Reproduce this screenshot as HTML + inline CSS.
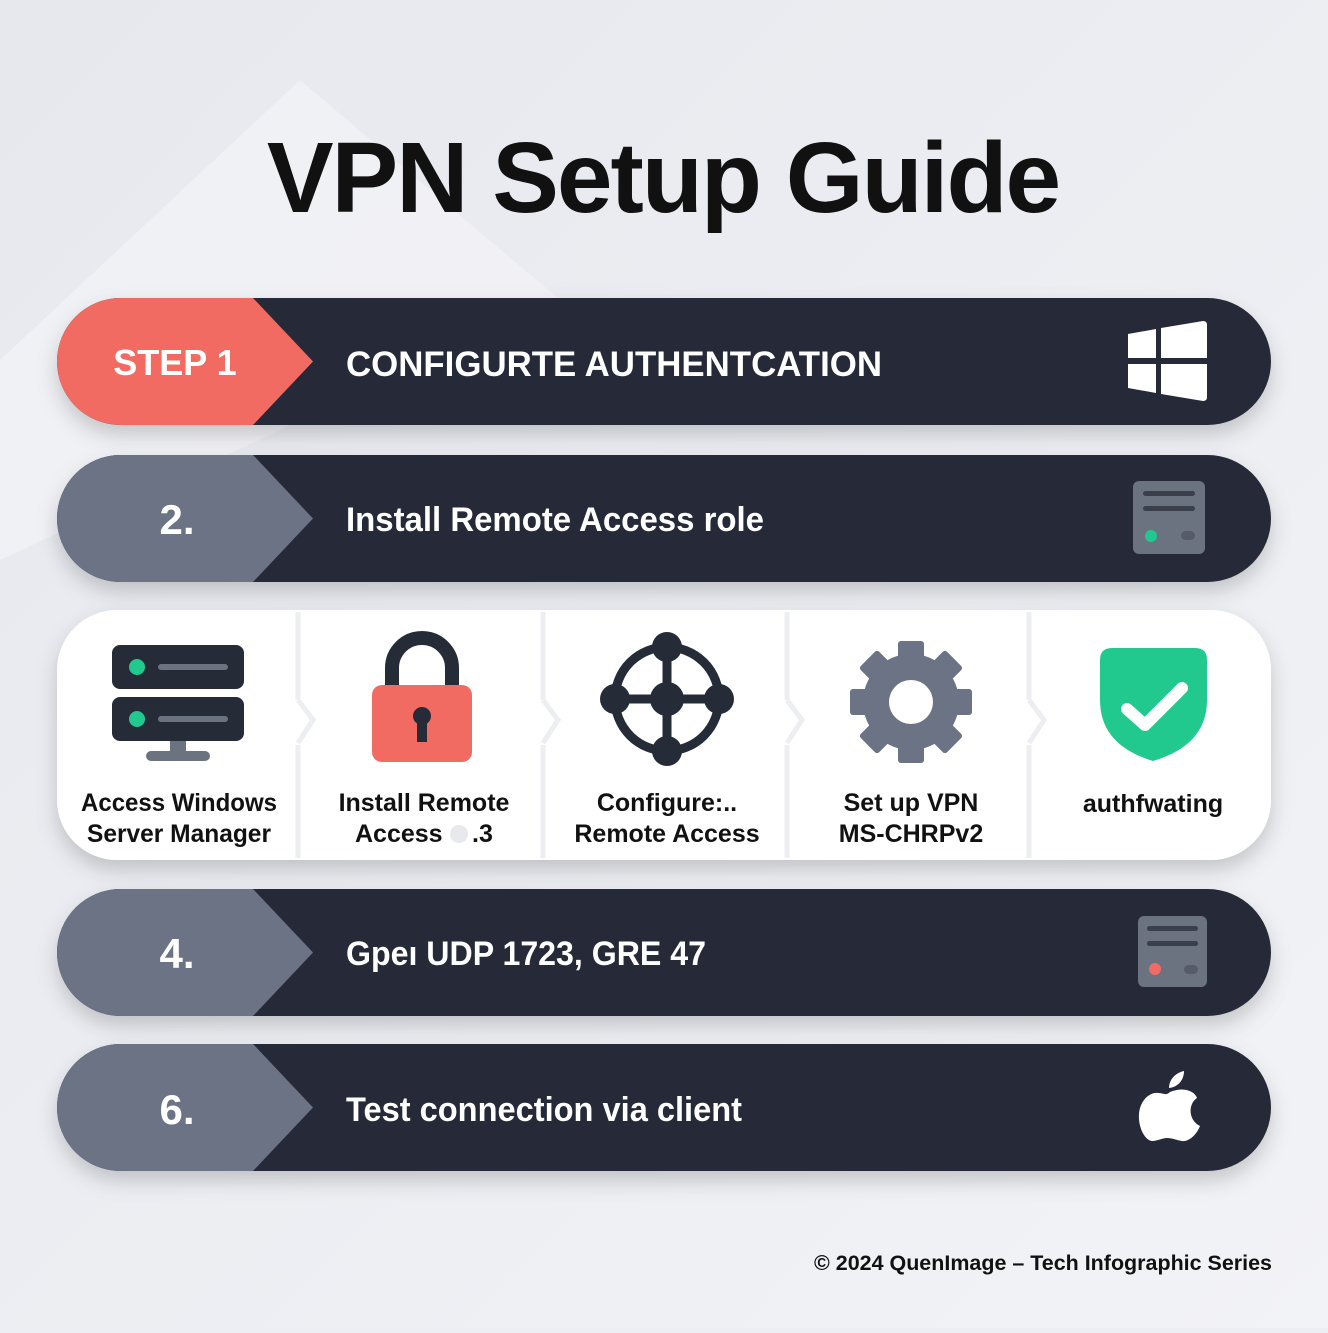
<!DOCTYPE html>
<html><head><meta charset="utf-8"><style>
html,body{margin:0;padding:0}
body{width:1328px;height:1328px;overflow:hidden;background:#eceef3;font-family:"Liberation Sans",sans-serif}
</style></head><body>
<svg width="1328" height="1328" viewBox="0 0 1328 1328" xmlns="http://www.w3.org/2000/svg" font-family="Liberation Sans, sans-serif">
<defs>
<linearGradient id="bg" x1="0" y1="0" x2="1" y2="1"><stop offset="0" stop-color="#e6e8ee"/><stop offset="1" stop-color="#f2f3f6"/></linearGradient>
<filter id="sh" x="-10%" y="-30%" width="120%" height="170%"><feDropShadow dx="0" dy="10" stdDeviation="10" flood-color="#000" flood-opacity="0.18"/></filter>
<clipPath id="c1"><rect x="57" y="298" width="1214" height="127" rx="63.5"/></clipPath>
<clipPath id="c2"><rect x="57" y="455" width="1214" height="127" rx="63.5"/></clipPath>
<clipPath id="c4"><rect x="57" y="889" width="1214" height="127" rx="63.5"/></clipPath>
<clipPath id="c6"><rect x="57" y="1044" width="1214" height="127" rx="63.5"/></clipPath>
</defs>
<rect width="1328" height="1328" fill="url(#bg)"/>
<path d="M0 360 L300 80 L560 300 L0 560Z" fill="#f3f4f7" opacity="0.7"/>
<text x="663" y="212" text-anchor="middle" font-size="100" font-weight="bold" fill="#111" letter-spacing="-2">VPN Setup Guide</text>

<!-- bar 1 -->
<g filter="url(#sh)"><rect x="57" y="298" width="1214" height="127" rx="63.5" fill="#262b38"/></g>
<g clip-path="url(#c1)"><path d="M0 298 H253 L313 361.5 L253 425 H0Z" fill="#f26b62"/></g>
<text x="175" y="375" text-anchor="middle" font-size="36" font-weight="bold" fill="#fff">STEP 1</text>
<text x="346" y="376" font-size="35" font-weight="bold" fill="#fff" textLength="536" lengthAdjust="spacingAndGlyphs">CONFIGURTE AUTHENTCATION</text>
<g fill="#fff"><path d="M1128 334 L1156 329 V358 H1128Z"/><path d="M1161 328 L1203 321 Q1207 321 1207 325 V358 H1161Z"/><path d="M1128 364 H1156 V393 L1128 388Z"/><path d="M1161 364 H1207 V397 Q1207 401 1203 401 L1161 394Z"/></g>

<!-- bar 2 -->
<g filter="url(#sh)"><rect x="57" y="455" width="1214" height="127" rx="63.5" fill="#262b38"/></g>
<g clip-path="url(#c2)"><path d="M0 455 H253 L313 518.5 L253 582 H0Z" fill="#6b7385"/></g>
<text x="177" y="534" text-anchor="middle" font-size="42" font-weight="bold" fill="#fff">2.</text>
<text x="346" y="531" font-size="34" font-weight="bold" fill="#fff" textLength="418" lengthAdjust="spacingAndGlyphs">Install Remote Access role</text>
<rect x="1133" y="481" width="72" height="73" rx="6" fill="#6b7280"/>
<rect x="1143" y="491" width="52" height="5" rx="2.5" fill="#3a3f4c"/><rect x="1143" y="506" width="52" height="5" rx="2.5" fill="#3a3f4c"/>
<circle cx="1151" cy="536" r="6" fill="#22c98e"/><rect x="1181" y="531" width="14" height="9" rx="4.5" fill="#555b68"/>

<!-- card -->
<g filter="url(#sh)"><rect x="57" y="610" width="1214" height="250" rx="60" fill="#fff"/></g>
<g stroke="#eceef1" stroke-width="5"><line x1="298" y1="612" x2="298" y2="700"/><line x1="298" y1="745" x2="298" y2="858"/><line x1="543" y1="612" x2="543" y2="700"/><line x1="543" y1="745" x2="543" y2="858"/><line x1="787" y1="612" x2="787" y2="700"/><line x1="787" y1="745" x2="787" y2="858"/><line x1="1029" y1="612" x2="1029" y2="700"/><line x1="1029" y1="745" x2="1029" y2="858"/></g>
<g fill="none" stroke="#eceef1" stroke-width="5"><path d="M298 700 L313 720 L298 743"/><path d="M543 700 L558 720 L543 743"/><path d="M787 700 L802 720 L787 743"/><path d="M1029 700 L1044 720 L1029 743"/></g>
<!-- server icon -->
<rect x="112" y="645" width="132" height="44" rx="8" fill="#262b38"/><rect x="112" y="697" width="132" height="44" rx="8" fill="#262b38"/>
<circle cx="137" cy="667" r="8" fill="#22c98e"/><circle cx="137" cy="719" r="8" fill="#22c98e"/>
<rect x="158" y="664" width="70" height="6" rx="3" fill="#6b7280"/><rect x="158" y="716" width="70" height="6" rx="3" fill="#6b7280"/>
<rect x="170" y="741" width="16" height="12" fill="#6b7280"/><rect x="146" y="751" width="64" height="10" rx="5" fill="#6b7280"/>
<!-- lock -->
<path d="M392 690 V668 A30 30 0 0 1 452 668 V690" fill="none" stroke="#262b38" stroke-width="14"/>
<rect x="372" y="685" width="100" height="77" rx="10" fill="#f26b62"/>
<circle cx="422" cy="716" r="9" fill="#262b38"/><rect x="417" y="716" width="10" height="26" fill="#262b38"/>
<!-- network -->
<g stroke="#262b38" stroke-width="9" fill="none"><circle cx="667" cy="699" r="52"/><line x1="667" y1="647" x2="667" y2="751"/><line x1="615" y1="699" x2="719" y2="699"/></g>
<g fill="#262b38"><circle cx="667" cy="647" r="15"/><circle cx="667" cy="751" r="15"/><circle cx="615" cy="699" r="15"/><circle cx="719" cy="699" r="15"/><circle cx="667" cy="699" r="17"/></g>
<!-- gear -->
<g fill="#6b7385" transform="translate(911 702)">
<circle r="48"/>
<g><rect x="-13" y="-61" width="26" height="24" rx="3"/><rect x="-13" y="-61" width="26" height="24" rx="3" transform="rotate(45)"/><rect x="-13" y="-61" width="26" height="24" rx="3" transform="rotate(90)"/><rect x="-13" y="-61" width="26" height="24" rx="3" transform="rotate(135)"/><rect x="-13" y="-61" width="26" height="24" rx="3" transform="rotate(180)"/><rect x="-13" y="-61" width="26" height="24" rx="3" transform="rotate(225)"/><rect x="-13" y="-61" width="26" height="24" rx="3" transform="rotate(270)"/><rect x="-13" y="-61" width="26" height="24" rx="3" transform="rotate(315)"/></g>
<circle r="22" fill="#fff"/></g>
<!-- shield -->
<path d="M1112 648 H1195 Q1207 648 1207 660 V700 Q1207 745 1153 761 Q1100 745 1100 700 V660 Q1100 648 1112 648Z" fill="#22c98e"/>
<path d="M1127 709 L1145 725 L1182 688" fill="none" stroke="#fff" stroke-width="12" stroke-linecap="round" stroke-linejoin="round"/>
<g font-size="25" font-weight="bold" fill="#111" text-anchor="middle">
<text x="179" y="811" textLength="196" lengthAdjust="spacingAndGlyphs">Access Windows</text><text x="179" y="842" textLength="184" lengthAdjust="spacingAndGlyphs">Server Manager</text>
<text x="424" y="811">Install Remote</text><text x="355" y="842" text-anchor="start">Access</text><text x="472" y="842" text-anchor="start">.3</text>
<text x="667" y="811">Configure:..</text><text x="667" y="842">Remote Access</text>
<text x="911" y="811">Set up VPN</text><text x="911" y="842">MS-CHRPv2</text>
<text x="1153" y="812">authfwating</text>
</g>
<circle cx="459" cy="834" r="9" fill="#e8e9ec"/>

<!-- bar 4 -->
<g filter="url(#sh)"><rect x="57" y="889" width="1214" height="127" rx="63.5" fill="#262b38"/></g>
<g clip-path="url(#c4)"><path d="M0 889 H253 L313 952.5 L253 1016 H0Z" fill="#6b7385"/></g>
<text x="177" y="968" text-anchor="middle" font-size="42" font-weight="bold" fill="#fff">4.</text>
<text x="346" y="965" font-size="34" font-weight="bold" fill="#fff" textLength="360" lengthAdjust="spacingAndGlyphs">Gpeı UDP 1723, GRE 47</text>
<rect x="1138" y="916" width="69" height="71" rx="6" fill="#6b7280"/>
<rect x="1147" y="926" width="51" height="5" rx="2.5" fill="#3a3f4c"/><rect x="1147" y="941" width="51" height="5" rx="2.5" fill="#3a3f4c"/>
<circle cx="1155" cy="969" r="6" fill="#f26b62"/><rect x="1184" y="965" width="14" height="9" rx="4.5" fill="#555b68"/>

<!-- bar 6 -->
<g filter="url(#sh)"><rect x="57" y="1044" width="1214" height="127" rx="63.5" fill="#262b38"/></g>
<g clip-path="url(#c6)"><path d="M0 1044 H253 L313 1107.5 L253 1171 H0Z" fill="#6b7385"/></g>
<text x="177" y="1124" text-anchor="middle" font-size="42" font-weight="bold" fill="#fff">6.</text>
<text x="346" y="1121" font-size="34" font-weight="bold" fill="#fff" textLength="396" lengthAdjust="spacingAndGlyphs">Test connection via client</text>
<g fill="#fff"><path d="M1170 1092 C1185 1086 1195 1092 1197 1098 C1188 1104 1188 1120 1200 1126 C1196 1136 1188 1142 1182 1141 C1176 1140 1172 1138 1167 1138 C1162 1138 1158 1141 1152 1141 C1144 1140 1138 1126 1139 1114 C1140 1100 1150 1092 1158 1093 C1163 1093 1166 1096 1170 1092Z"/><path d="M1169 1088 C1169 1080 1175 1073 1184 1071 C1184 1080 1178 1087 1169 1088Z"/></g>

<text x="1272" y="1270" text-anchor="end" font-size="21" font-weight="bold" fill="#111" textLength="458" lengthAdjust="spacingAndGlyphs">© 2024 QuenImage – Tech Infographic Series</text>
</svg>
</body></html>
